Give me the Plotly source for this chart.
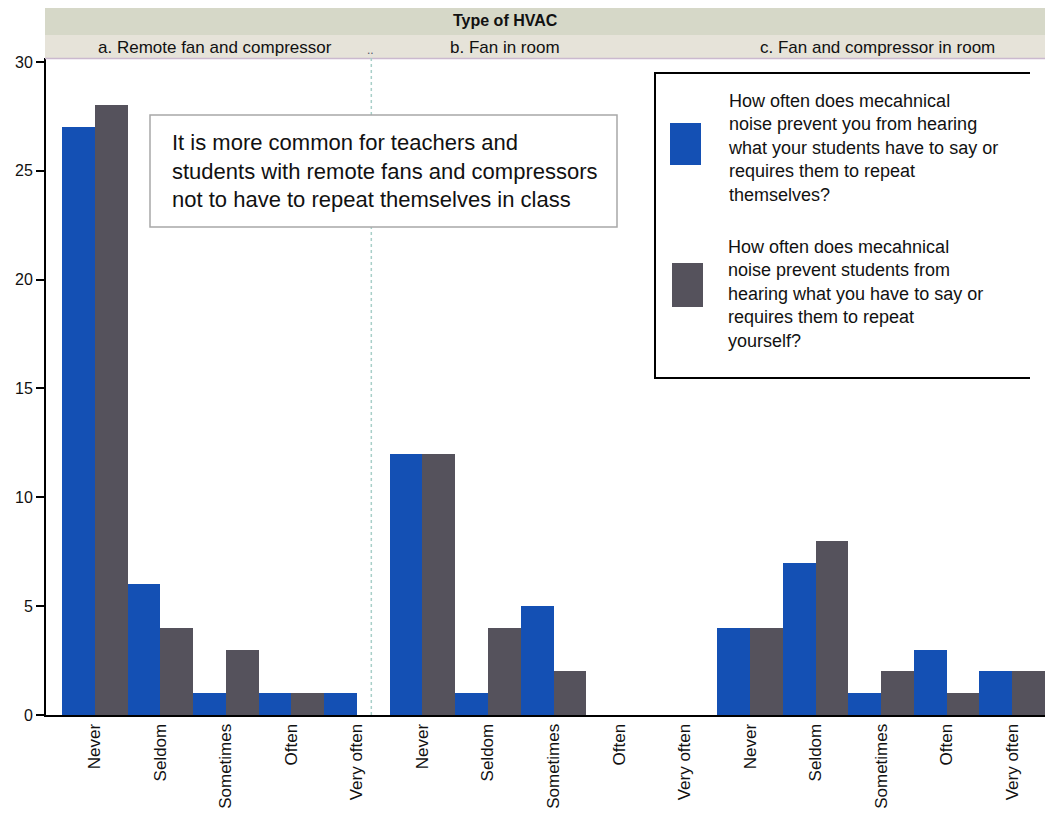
import plotly.graph_objects as go

# ---------------- data ----------------
panels = ["a. Remote fan and compressor", "b. Fan in room", "c. Fan and compressor in room"]
categories = ["Never", "Seldom", "Sometimes", "Often", "Very often"]

# blue series: teachers hearing students
teacher_a = [27, 6, 1, 1, 1]
teacher_b = [12, 1, 5, 0, 0]
teacher_c = [4, 7, 1, 3, 2]
# grey series: students hearing teacher
student_a = [28, 4, 3, 1, 0]
student_b = [12, 4, 2, 0, 0]
student_c = [4, 8, 2, 1, 2]

teacher_name_lines = ["How often does mecahnical", "noise prevent you from hearing",
                      "what your students have to say or", "requires them to repeat", "themselves?"]
student_name_lines = ["How often does mecahnical", "noise prevent students from",
                      "hearing what you have to say or", "requires them to repeat", "yourself?"]
facet_title = "Type of HVAC"
note_lines = ["It is more common for teachers and",
              "students with remote fans and compressors",
              "not to have to repeat themselves in class"]
y_ticks = [0, 5, 10, 15, 20, 25, 30]

BLUE = "#1450b4"
GREY = "#55525c"

# ---------------- geometry helpers (pixel -> paper) ----------------
W, H = 1049, 820
ML, MR, MT, MB = 46, 4, 58, 105
PW = W - ML - MR
PH = H - MT - MB


def px(x):
    return (x - ML) / PW


def py(y):
    return (H - MB - y) / PH


x_pos, ticktext = [], []
for p in range(len(panels)):
    for c, cat in enumerate(categories):
        x_pos.append(p * len(categories) + c)
        ticktext.append(cat)

teacher_vals = teacher_a + teacher_b + teacher_c
student_vals = student_a + student_b + student_c

fig = go.Figure()
fig.add_trace(go.Bar(x=x_pos, y=teacher_vals, name=" ".join(teacher_name_lines),
                     marker=dict(color=BLUE, line=dict(width=0)), showlegend=False))
fig.add_trace(go.Bar(x=x_pos, y=student_vals, name=" ".join(student_name_lines),
                     marker=dict(color=GREY, line=dict(width=0)), showlegend=False))

shapes = []
annotations = []

# facet strips
shapes.append(dict(type="rect", xref="paper", yref="paper", x0=px(45), x1=px(1045),
                   y0=py(35), y1=py(8), fillcolor="#d6d8c8", line=dict(width=0), layer="below"))
shapes.append(dict(type="rect", xref="paper", yref="paper", x0=px(45), x1=px(1045),
                   y0=py(59), y1=py(35), fillcolor="#e6e3d9", line=dict(width=0), layer="below"))
shapes.append(dict(type="line", xref="paper", yref="paper", x0=px(45), x1=px(1045),
                   y0=py(58.5), y1=py(58.5), line=dict(color="#cbb9cf", width=1.5)))
annotations.append(dict(text="<b>" + facet_title + "</b>", xref="paper", yref="paper",
                        x=px(505), y=py(21), xanchor="center", yanchor="middle", showarrow=False,
                        font=dict(family="Liberation Sans, Arial", size=16, color="#111")))
panel_centers = [215, 505, 877]
for name, cx in zip(panels, panel_centers):
    annotations.append(dict(text=name, xref="paper", yref="paper", x=px(cx), y=py(47),
                            xanchor="center", yanchor="middle", showarrow=False,
                            font=dict(family="Liberation Sans, Arial", size=17, color="#111")))
annotations.append(dict(text="..", xref="paper", yref="paper", x=px(370), y=py(50),
                        xanchor="center", yanchor="middle",
                        showarrow=False, font=dict(size=12, color="#556")))

# divider
shapes.append(dict(type="line", xref="x", yref="paper", x0=4.22, x1=4.22, y0=0, y1=py(58),
                   line=dict(color="#a8cfc8", width=1.5, dash="dot")))

# note box
shapes.append(dict(type="rect", xref="paper", yref="paper", x0=px(150), x1=px(617),
                   y0=py(227), y1=py(115), fillcolor="white", line=dict(color="#a8a8a8", width=1.5)))
annotations.append(dict(text="<br>".join(note_lines), xref="paper", yref="paper",
                        x=px(170), y=py(171), xanchor="left", yanchor="middle", align="left",
                        showarrow=False,
                        font=dict(family="Liberation Sans, Arial", size=22, color="#111")))

# custom legend
shapes.append(dict(type="path", xref="paper", yref="paper",
                   path=f"M {px(1030)},{py(73)} L {px(655)},{py(73)} L {px(655)},{py(378)} L {px(1030)},{py(378)}",
                   line=dict(color="black", width=2)))
shapes.append(dict(type="rect", xref="paper", yref="paper", x0=px(670), x1=px(701),
                   y0=py(165), y1=py(123), fillcolor=BLUE, line=dict(width=0)))
shapes.append(dict(type="rect", xref="paper", yref="paper", x0=px(672), x1=px(703),
                   y0=py(307), y1=py(263), fillcolor=GREY, line=dict(width=0)))
annotations.append(dict(text="<br>".join(teacher_name_lines), xref="paper", yref="paper",
                        x=px(726), y=py(148), xanchor="left", yanchor="middle", align="left",
                        showarrow=False,
                        font=dict(family="Liberation Sans, Arial", size=18, color="#111")))
annotations.append(dict(text="<br>".join(student_name_lines), xref="paper", yref="paper",
                        x=px(726), y=py(294), xanchor="left", yanchor="middle", align="left",
                        showarrow=False,
                        font=dict(family="Liberation Sans, Arial", size=18, color="#111")))

fig.update_layout(
    width=W, height=H,
    margin=dict(l=ML, r=MR, t=MT, b=MB),
    barmode="group", bargap=0, bargroupgap=0,
    plot_bgcolor="white", paper_bgcolor="white",
    shapes=shapes, annotations=annotations,
    font=dict(family="Liberation Sans, Arial", color="#111"),
)
fig.update_xaxes(range=[-0.744, 14.5], tickmode="array", tickvals=x_pos, ticktext=ticktext,
                 tickangle=-90, showgrid=False, zeroline=False, showline=True,
                 linecolor="black", linewidth=2, ticks="", tickfont=dict(size=17))
fig.update_yaxes(range=[0, 30.18], tickmode="array", tickvals=y_ticks, showgrid=False,
                 zeroline=False, showline=True, linecolor="black", linewidth=2,
                 ticks="outside", ticklen=8, tickwidth=2, tickcolor="black",
                 tickfont=dict(size=16))

fig.write_html("out.html", config={"displayModeBar": False},
               post_script="document.body.style.margin='0';")
